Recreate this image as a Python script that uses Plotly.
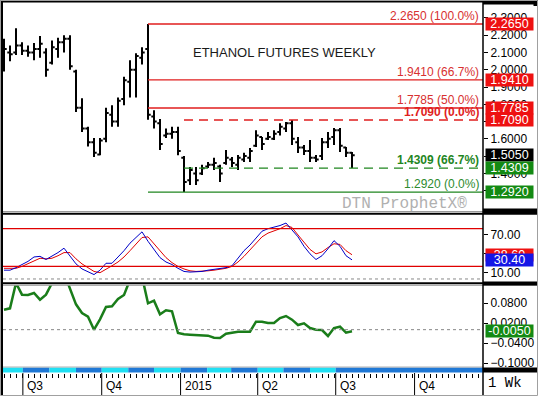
import plotly.graph_objects as go
import pandas as pd

# ---------------- data ----------------
first_week = "2014-06-09"
opens = [2.05,2.10,2.10,2.14,2.11,2.10,2.12,2.10,2.04,2.12,
         2.16,2.18,1.99,1.78,1.66,1.58,1.51,1.60,1.74,1.70,
         1.83,1.93,2.00,2.07,2.12,1.73,1.69,1.62,1.63,1.64,
         1.49,1.36,1.40,1.40,1.44,1.45,1.44,1.46,1.48,1.45,
         1.48,1.49,1.56,1.61,1.60,1.60,1.64,1.66,1.69,1.58,
         1.55,1.53,1.49,1.50,1.58,1.61,1.65,1.55,1.52]
highs = [2.18,2.14,2.24,2.16,2.14,2.155,2.195,2.125,2.17,2.185,
         2.20,2.20,2.00,1.835,1.67,1.605,1.605,1.78,1.795,1.84,
         1.96,2.055,2.095,2.13,2.265,1.765,1.715,1.66,1.67,1.67,
         1.50,1.437,1.437,1.45,1.466,1.49,1.45,1.535,1.495,1.507,
         1.52,1.547,1.65,1.61,1.64,1.65,1.69,1.698,1.709,1.61,
         1.565,1.593,1.507,1.605,1.64,1.663,1.663,1.553,1.524]
lows = [1.99,2.05,2.085,2.085,2.075,2.055,2.07,1.96,2.03,2.07,
        2.10,2.00,1.755,1.64,1.555,1.495,1.505,1.58,1.67,1.67,
        1.795,1.84,1.84,2.03,1.71,1.66,1.535,1.605,1.60,1.505,
        1.292,1.333,1.333,1.39,1.431,1.42,1.35,1.45,1.437,1.42,
        1.466,1.466,1.553,1.535,1.593,1.593,1.62,1.64,1.565,1.518,
        1.507,1.466,1.466,1.477,1.547,1.565,1.524,1.495,1.431]
closes = [2.12,2.09,2.14,2.11,2.10,2.12,2.15,2.00,2.13,2.16,
          2.18,2.02,1.78,1.66,1.58,1.52,1.59,1.75,1.70,1.82,
          1.94,2.00,2.08,2.10,1.74,1.70,1.57,1.63,1.64,1.53,
          1.35,1.42,1.36,1.43,1.45,1.46,1.40,1.49,1.46,1.49,
          1.50,1.53,1.62,1.57,1.61,1.63,1.67,1.69,1.60,1.55,
          1.53,1.49,1.48,1.58,1.60,1.65,1.56,1.52,1.505]
stoch_k = [14,14,18,23,28,35,36,31,36,42,
           49,36,24,16,11,7,14,25,25,35,
           45,57,66,75,60,47,34,27,23,17,
           12,11,11,12,14,15,16,18,21,33,
           45,54,65,76,80,82,85,89,78,67,
           52,40,31,37,48,61,52,37,30.4]
stoch_d = [17,17,17,20,24,29,33,32,33,37,
           42,42,32,24,18,12,10,15,21,27,
           35,45,56,66,67,56,44,34,26,20,
           16,13,12,12,13,14,15,17,20,27,
           36,46,57,67,73,76,80,85,82,70,
           58,47,40,43,50,56,55,45,38.6]
momentum = [0.060,0.064,0.140,0.105,0.104,0.110,0.090,0.105,0.140,0.160,
            0.170,0.120,0.076,0.050,0.039,0.000,0.031,0.068,0.070,0.092,
            0.104,0.150,0.170,0.160,0.079,0.087,0.046,0.058,0.055,-0.010,
            -0.014,-0.015,-0.016,-0.017,-0.018,-0.024,-0.025,-0.012,-0.008,-0.006,
            -0.006,-0.006,0.024,0.024,0.020,0.020,0.035,0.041,0.030,0.014,
            0.019,0.005,0.000,-0.001,-0.019,0.005,0.009,-0.009,-0.005]

fib_solid_levels = [2.2650, 1.9410, 1.7785]
fib_solid_pcts = ["100.0%", "66.7%", "50.0%"]
fib_dash_red = (1.7090, "0.0%")
fib_dash_green = (1.4309, "66.7%")
fib_low = (1.2920, "0.0%")
last_price = 1.5050

price_ticks = [1.3, 1.4, 1.5, 1.6, 1.7, 1.8, 1.9, 2.0, 2.1, 2.2, 2.3]
stoch_ticks = [10, 40, 70]
momentum_ticks = [0.08, 0.02, -0.04, -0.10]

quarter_dates = ["2014-07-01", "2014-10-01", "2015-01-01", "2015-04-01", "2015-07-01", "2015-10-01"]
quarter_labels = ["Q3", "Q4", "2015", "Q2", "Q3", "Q4"]

dates = pd.date_range(first_week, periods=len(closes), freq="7D")

# ---------------- geometry helpers ----------------
W, H = 538, 396
ML, MR, MT, MB = 3, 55, 3, 23
PW, PH = W - ML - MR, H - MT - MB
def pxx(x): return (x - ML) / PW
def pxy(y): return (H - MB - y) / PH

ppd = 348 / ((dates[-1] - dates[0]).days)   # pixels per day
X_START = dates[0] - pd.Timedelta(days=1 / ppd)
X_END = dates[0] + pd.Timedelta(days=479 / ppd)

FONT = "Liberation Sans, Arial, sans-serif"
RED = "#e01e1e"
GREEN = "#1f861f"

fig = go.Figure()
fig.add_trace(go.Ohlc(x=dates, open=opens, high=highs, low=lows, close=closes,
                      increasing=dict(line=dict(color="black", width=2)),
                      decreasing=dict(line=dict(color="black", width=2)),
                      tickwidth=0.45, xaxis="x", yaxis="y", hoverinfo="skip"))
fig.add_trace(go.Scatter(x=dates, y=stoch_d, mode="lines", line=dict(color="#e00000", width=1),
                         xaxis="x", yaxis="y2", hoverinfo="skip"))
fig.add_trace(go.Scatter(x=dates, y=stoch_k, mode="lines", line=dict(color="#0000c8", width=1),
                         xaxis="x", yaxis="y2", hoverinfo="skip"))
fig.add_trace(go.Scatter(x=dates, y=momentum, mode="lines", line=dict(color="#1a7d1a", width=2.5),
                         xaxis="x", yaxis="y3", hoverinfo="skip"))

shapes = []
ann = []
i_hi = highs.index(max(highs))
i_lo = lows.index(min(lows))

# fib lines
for lv, pc in zip(fib_solid_levels, fib_solid_pcts):
    shapes.append(dict(type="line", xref="x", yref="y", x0=dates[i_hi], x1=X_END, y0=lv, y1=lv,
                       line=dict(color=RED, width=1.3)))
    ann.append(dict(text=f"{lv:.4f} ({pc})", xref="paper", yref="y", x=pxx(481), y=lv, yshift=8,
                    xanchor="right", yanchor="middle", showarrow=False,
                    font=dict(family=FONT, size=12, color="#d83030")))
shapes.append(dict(type="line", xref="x", yref="y", x0=dates[i_hi], x1=X_END, y0=fib_low[0], y1=fib_low[0],
                   line=dict(color=GREEN, width=1.3)))
ann.append(dict(text=f"{fib_low[0]:.4f} ({fib_low[1]})", xref="paper", yref="y", x=pxx(481), y=fib_low[0],
                yshift=8, xanchor="right", yanchor="middle", showarrow=False,
                font=dict(family=FONT, size=12, color="#2e8b2e")))
for (lv, pc), col in [(fib_dash_red, RED), (fib_dash_green, GREEN)]:
    shapes.append(dict(type="line", xref="x", yref="y", x0=dates[i_lo], x1=X_END, y0=lv, y1=lv,
                       line=dict(color=col, width=1.3, dash="9px,6px")))
    ann.append(dict(text=f"<b>{lv:.4f} ({pc})</b>", xref="paper", yref="y", x=pxx(481), y=lv, yshift=8,
                    xanchor="right", yanchor="middle", showarrow=False,
                    font=dict(family=FONT, size=12, color=col)))

# stochastic reference lines
for lv in [80, 20]:
    shapes.append(dict(type="line", xref="paper", yref="y2", x0=0, x1=1, y0=lv, y1=lv,
                       line=dict(color="#e00000", width=1.3)))
shapes.append(dict(type="line", xref="paper", yref="y2", x0=0, x1=1, y0=0, y1=0,
                   line=dict(color="#888888", width=1, dash="3px,3px")))
shapes.append(dict(type="line", xref="paper", yref="y3", x0=0, x1=1, y0=0, y1=0,
                   line=dict(color="#888888", width=1, dash="3px,3px")))

# time strip
month_starts = pd.date_range("2014-07-01", "2015-07-01", freq="MS")
CYAN, BLUE = "#1fe0f4", "#1f78d6"
edges = [X_START] + list(month_starts) + [X_END]
for k in range(len(edges) - 1):
    col = CYAN if k % 2 == 0 else BLUE
    if k == len(edges) - 2:
        col = BLUE
    shapes.append(dict(type="rect", xref="x", yref="paper", x0=edges[k], x1=edges[k + 1],
                       y0=pxy(372.5), y1=pxy(367.5), fillcolor=col, line=dict(width=0)))
for qd, ql in zip(quarter_dates, quarter_labels):
    shapes.append(dict(type="line", xref="x", yref="paper", x0=qd, x1=qd, y0=pxy(373), y1=pxy(395),
                       line=dict(color="black", width=1)))
    ann.append(dict(text=ql, xref="x", yref="paper", x=qd, y=pxy(386), xanchor="left", yanchor="middle",
                    xshift=2, showarrow=False, font=dict(family=FONT, size=12, color="black")))

# frame / separators
def hline(y, x0, x1, w, col="black"):
    shapes.append(dict(type="line", xref="paper", yref="paper", x0=pxx(x0), x1=pxx(x1),
                       y0=pxy(y), y1=pxy(y), line=dict(color=col, width=w)))
def vline(x, y0, y1, w, col="black"):
    shapes.append(dict(type="line", xref="paper", yref="paper", x0=pxx(x), x1=pxx(x),
                       y0=pxy(y0), y1=pxy(y1), line=dict(color=col, width=w)))
hline(211.5, 0, 538, 1, "#9a9a9a")
hline(213.8, 0, 538, 2)
hline(283.3, 0, 538, 2)
hline(285.3, 0, 538, 1, "#9a9a9a")
hline(367, 0, 483, 1, "#b0b0b0")
hline(1.5, 0, 538, 2)
hline(211, 483, 538, 5)
hline(283.5, 483, 538, 4)
hline(370, 483, 538, 5)
hline(2.5, 483, 538, 4)
vline(483, 0, 396, 1.5)
vline(2, 0, 396, 2)
vline(535.5, 0, 6, 4)
shapes.append(dict(type="rect", xref="paper", yref="paper", x0=pxx(0.5), x1=pxx(537.5),
                   y0=pxy(395.5), y1=pxy(0.5), line=dict(color="#a0a0a0", width=1)))

# value boxes on right axis
def box(val, text, yref, bg):
    ann.append(dict(text=text, xref="paper", yref=yref, x=1, y=val, xshift=2, xanchor="left",
                    yanchor="middle", showarrow=False, width=47, height=12, bgcolor=bg, borderpad=0,
                    align="center", font=dict(family=FONT, size=12.5, color="white")))
for lv in fib_solid_levels + [fib_dash_red[0]]:
    box(lv, f"{lv:.4f}", "y", "#ee1111")
box(last_price, f"{last_price:.4f}", "y", "black")
box(fib_dash_green[0], f"{fib_dash_green[0]:.4f}", "y", "#138a13")
box(fib_low[0], f"{fib_low[0]:.4f}", "y", "#138a13")
box(stoch_d[-1], f"{stoch_d[-1]:.2f}", "y2", "#ee1111")
box(stoch_k[-1], f"{stoch_k[-1]:.2f}", "y2", "#1515e6")
box(momentum[-1], f"{momentum[-1]:.4f}", "y3", "#138a13")

ann.append(dict(text="ETHANOL FUTURES WEEKLY", xref="paper", yref="paper", x=pxx(191), y=pxy(53),
                xanchor="left", yanchor="middle", showarrow=False,
                font=dict(family=FONT, size=13, color="#1a1a1a")))
ann.append(dict(text="DTN ProphetX®", xref="paper", yref="paper", x=pxx(404), y=pxy(204),
                xanchor="center", yanchor="middle", showarrow=False,
                font=dict(family="Liberation Mono, Courier New, monospace", size=16, color="#b0b0b0")))
ann.append(dict(text="1 Wk", xref="paper", yref="paper", x=pxx(505), y=pxy(383),
                xanchor="center", yanchor="middle", showarrow=False,
                font=dict(family="Liberation Mono, Courier New, monospace", size=14, color="black")))

P_MAX = 2.265 + (24 - 3) / 172.7
P_MIN = 2.265 - (213 - 24) / 172.7
yax_common = dict(side="right", anchor="x", ticks="outside", ticklen=4, tickcolor="black",
                  showgrid=False, zeroline=False, showline=False, tickmode="array",
                  tickfont=dict(family=FONT, size=12, color="black"))

fig.update_layout(
    width=W, height=H, margin=dict(l=ML, r=MR, t=MT, b=MB),
    paper_bgcolor="white", plot_bgcolor="white", showlegend=False,
    shapes=shapes, annotations=ann,
    xaxis=dict(type="date", range=[X_START, X_END], domain=[0, 1], anchor="free", position=0,
               showline=False, ticks="outside", ticklen=4,
               tickcolor="black", tickmode="linear", tick0=dates[0], dtick=7 * 86400000,
               showticklabels=False, showgrid=False, zeroline=False,
               rangeslider=dict(visible=False)),
    yaxis=dict(domain=[pxy(213), pxy(3)], range=[P_MIN, P_MAX], tickvals=price_ticks,
               tickformat=".4f", **yax_common),
    yaxis2=dict(domain=[pxy(282), pxy(216)], range=[-4.8, 100.2], tickvals=stoch_ticks,
                tickformat=".2f", **yax_common),
    yaxis3=dict(domain=[pxy(367), pxy(285)], range=[-0.112, 0.134], tickvals=momentum_ticks,
                tickformat=".4f", **yax_common),
)

fig.write_html("out.html", config={"displayModeBar": False},
               post_script="document.body.style.margin='0px';document.body.style.overflow='hidden';")
